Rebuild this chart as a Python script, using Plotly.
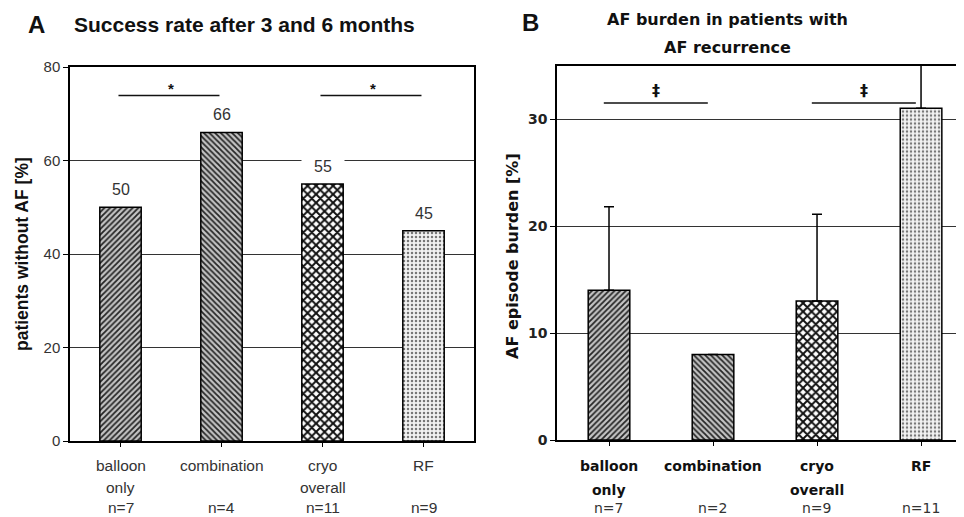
import plotly.graph_objects as go

# ---------------- data ----------------
categories = ["balloon only", "combination", "cryo overall", "RF"]
label_lines_a = [["balloon", "only"], ["combination"], ["cryo", "overall"], ["RF"]]
label_lines_b = [["balloon", "only"], ["combination"], ["cryo", "overall"], ["RF"]]
success_rate = [50, 66, 55, 45]
n_a = [7, 4, 11, 9]
af_burden = [14, 8, 13, 31]
af_burden_err = [7.8, 0, 8.1, 4.4]
n_b = [7, 2, 9, 11]
sig_pairs_a = [(0, 1), (2, 3)]
sig_level_a = 73.9
sig_pairs_b = [(0, 1), (2, 3)]
sig_level_b = 31.5
y_ticks_a = [0, 20, 40, 60, 80]
y_ticks_b = [0, 10, 20, 30]

W, H = 964, 517
OFF = 8  # page body margin


def px(p):
    return (p - OFF) / W


def py(p):
    return 1 - (p - OFF) / H


pat_shapes = ["/", "\\", "x", "."]
pat_fg = ["#262626", "#262626", "#111111", "#777777"]
pat_bg = ["#c4c4c4", "#c4c4c4", "#ffffff", "#f2f2f2"]
pat_size = [4, 4, 6, 4]
pat_sol = [0.45, 0.45, 0.55, 0.3]

FA = "Liberation Sans, Arial, sans-serif"
FB = "DejaVu Sans, sans-serif"

fig = go.Figure()

fig.add_trace(go.Bar(
    x=list(range(4)), y=success_rate, xaxis="x", yaxis="y", width=0.41,
    marker=dict(color="#c4c4c4", line=dict(color="black", width=1.5),
                pattern=dict(shape=pat_shapes, fgcolor=pat_fg, bgcolor=pat_bg,
                             size=pat_size, solidity=pat_sol, fillmode="replace")),
    showlegend=False, hoverinfo="skip"))

fig.add_trace(go.Bar(
    x=list(range(4)), y=af_burden, xaxis="x2", yaxis="y2", width=0.40,
    marker=dict(color="#c4c4c4", line=dict(color="black", width=1.5),
                pattern=dict(shape=pat_shapes, fgcolor=pat_fg, bgcolor=pat_bg,
                             size=pat_size, solidity=pat_sol, fillmode="replace")),
    error_y=dict(type="data", symmetric=False, array=af_burden_err,
                 arrayminus=[0] * 4, color="black", thickness=1.5, width=5),
    showlegend=False, hoverinfo="skip"))

axis_common = dict(showline=True, linecolor="black", linewidth=1.5, automargin=False,
                   ticks="outside", tickcolor="black", zeroline=False)

fig.update_layout(
    width=W, height=H, margin=dict(l=0, r=0, t=0, b=0, pad=0),
    paper_bgcolor="white", plot_bgcolor="white",
    xaxis=dict(domain=[px(70), px(474)], range=[-0.5, 3.5], anchor="y",
               mirror=True, tickson="boundaries", ticklen=4, tickvals=[0, 1, 2, 3],
               showticklabels=False, showgrid=False, **axis_common),
    yaxis=dict(domain=[py(441), py(67)], range=[0, 80], anchor="x",
               tickvals=y_ticks_a, mirror=True, ticklen=5, showgrid=True,
               gridcolor="#333333", gridwidth=1,
               tickfont=dict(family=FA, size=15, color="#333333"), **axis_common),
    xaxis2=dict(domain=[px(557), 1.0], range=[-0.5, 3.49], anchor="y2",
                mirror=True, tickson="boundaries", ticklen=4, tickvals=[0, 1, 2, 3],
                showticklabels=False, showgrid=False, **axis_common),
    yaxis2=dict(domain=[py(440), py(65.5)], range=[0, 35], anchor="x2",
                tickvals=y_ticks_b, ticklen=5, showgrid=True,
                gridcolor="#333333", gridwidth=1,
                tickfont=dict(family=FB, size=14, color="#222222", weight="bold"),
                **axis_common),
)

ann = []
shapes = []


def note(text, x, y, size, family, color="#111", xref="paper", yref="paper",
         xanchor="center", yanchor="middle", **kw):
    d = dict(text=text, x=x, y=y, xref=xref, yref=yref, xanchor=xanchor,
             yanchor=yanchor, showarrow=False,
             font=dict(family=family, size=size, color=color))
    d.update(kw)
    ann.append(d)


# titles
note("<b>A</b>", px(36), py(24), 24, FA)
note("<b>Success rate after 3 and 6 months</b>", px(72), py(24), 21, FA, xanchor="left")
note("<b>B</b>", px(530), py(23), 24, FA)
note("<b>AF burden in patients with</b>", px(727), py(20), 16, FB)
note("<b>AF recurrence</b>", px(727), py(47), 16, FB)

# y-axis titles
note("<b>patients without AF [%]</b>", px(22), py(254), 17.5, FA, textangle=-90)
note("<b>AF episode burden [%]</b>", px(512), py(256), 16, FB, textangle=-90)

# value labels panel A
for i, v in enumerate(success_rate):
    note(str(v), i, v, 16, FA, color="#333", xref="x", yref="y", yanchor="bottom",
         yshift=4, bgcolor="white", width=40, height=24)

# category labels
for i in range(4):
    for k, line in enumerate(label_lines_a[i]):
        note(line, i, py([465, 487][k]), 15.5, FA, color="#333", xref="x")
    note(f"n={n_a[i]}", i, py(507), 15.5, FA, color="#333", xref="x")
    for k, line in enumerate(label_lines_b[i]):
        note(f"<b>{line}</b>", i, py([466, 490][k]), 14, FB, color="#111", xref="x2")
    note(f"n={n_b[i]}", i, py(508), 14, FB, color="#333", xref="x2")

# significance bars
for a, b in sig_pairs_a:
    shapes.append(dict(type="line", xref="x", yref="y", x0=a - 0.02, x1=b - 0.02,
                       y0=sig_level_a, y1=sig_level_a, line=dict(color="#111", width=1.6)))
    note("<b>*</b>", (a + b) / 2, sig_level_a, 15, FA, xref="x", yref="y",
         yanchor="bottom", yshift=-3)
for a, b in sig_pairs_b:
    shapes.append(dict(type="line", xref="x2", yref="y2", x0=a - 0.05, x1=b - 0.05,
                       y0=sig_level_b, y1=sig_level_b, line=dict(color="#111", width=1.6)))
    note("<b>‡</b>", (a + b) / 2 - 0.05, sig_level_b, 16, FB, xref="x2", yref="y2",
         yanchor="bottom", yshift=1)

fig.update_layout(annotations=ann, shapes=shapes)
fig.write_html("out.html")
